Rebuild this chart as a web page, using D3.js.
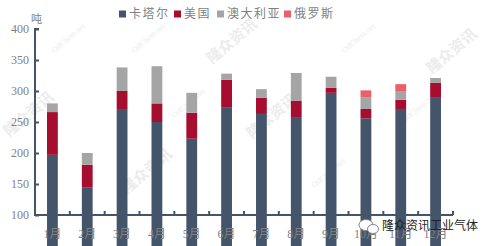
<!DOCTYPE html>
<html>
<head>
<meta charset="utf-8">
<script src="https://cdn.jsdelivr.net/npm/d3@7"></script>
<style>
  body { margin: 0; background: #fff; }
  svg { display: block; }
</style>
</head>
<body>
<div id="chart"></div>
<script>
// months and series (tonnes)
var months = ["1月", "2月", "3月", "4月", "5月", "6月", "7月", "8月", "9月", "10月", "11月", "12月"]
var qatar     = [197, 144, 271, 250, 223, 274, 263, 258, 297, 256, 271, 289]
var usa       = [ 69,  37,  29,  30,  42,  44,  26,  26,   8,  15,  15,  24]
var australia = [ 14,  19,  38,  60,  32,  10,  14,  45,  18,  19,  14,   8]
var russia    = [  0,   0,   0,   0,   0,   0,   0,   0,   0,  11,  11,   0]
var seriesNames = ["卡塔尔", "美国", "澳大利亚", "俄罗斯"]
var yTicks = [100, 150, 200, 250, 300, 350, 400]

var colors = ["#44546a", "#a50e2e", "#a5a5a5", "#e8606a"]
var axisColor = "#44546a"
var textFont = "'Liberation Serif', 'Noto Sans CJK SC', serif"

var W = 491, H = 246
var margin = {left: 35, right: 38, top: 29, bottom: 31}

// one row per month so d3.stack can do the work
var rows = months.map(function (m, i) {
  return {month: m, "卡塔尔": qatar[i], "美国": usa[i], "澳大利亚": australia[i], "俄罗斯": russia[i]}
})

var svg = d3.select("#chart").append("svg")
  .attr("width", W)
  .attr("height", H)

var x = d3.scaleBand()
  .domain(months)
  .range([margin.left, W - margin.right])
  .paddingInner(0.69)
  .paddingOuter(0.345)

var y = d3.scaleLinear()
  .domain([100, 400])
  .range([H - margin.bottom, margin.top])

// faint watermarks
var marks = [[32, 118, "隆众资讯"], [70, 40, "OilChem.net"], [150, 40, "OilChem.net"], [150, 175, "隆众资讯"],
  [190, 105, "OilChem.net"], [235, 45, "隆众资讯"], [275, 120, "隆众资讯"], [330, 175, "OilChem.net"],
  [360, 40, "OilChem.net"], [420, 110, "OilChem.net"], [455, 55, "隆众资讯"]]
svg.append("g").selectAll("text")
  .data(marks)
  .join("text")
  .attr("transform", d => `translate(${d[0]},${d[1]}) rotate(-40)`)
  .attr("text-anchor", "middle")
  .attr("font-family", textFont)
  .attr("font-size", d => d[2] == "OilChem.net" ? 8 : 15)
  .attr("font-weight", d => d[2] == "OilChem.net" ? "normal" : "bold")
  .attr("fill", "#ececec")
  .text(d => d[2])

var stacked = d3.stack().keys(seriesNames)(rows)

svg.append("g").selectAll("g")
  .data(stacked)
  .join("g")
  .attr("fill", (d, i) => colors[i])
  .selectAll("rect")
  .data(d => d)
  .join("rect")
  .attr("x", d => x(d.data.month))
  .attr("width", x.bandwidth())
  .attr("y", d => y(d[1]))
  .attr("height", d => y(d[0]) - y(d[1]))

// y axis
var yAxis = svg.append("g")
  .attr("transform", `translate(${margin.left},0)`)
  .call(d3.axisRight(y).tickValues(yTicks).tickSize(4).tickFormat(""))
yAxis.select(".domain").attr("stroke", axisColor).attr("stroke-width", 2)
  .attr("d", `M4,${y(400)}H0V${y(100)}`)
yAxis.selectAll(".tick line").attr("stroke", axisColor).attr("stroke-width", 2)

svg.append("g").selectAll("text")
  .data(yTicks)
  .join("text")
  .attr("x", 29)
  .attr("y", d => y(d))
  .attr("dy", "0.35em")
  .attr("text-anchor", "end")
  .attr("font-family", textFont)
  .attr("font-size", 12)
  .attr("fill", "#7f7f7f")
  .text(d => d)

svg.append("text")
  .attr("x", 31)
  .attr("y", 23)
  .attr("font-family", textFont)
  .attr("font-size", 11)
  .attr("fill", "#7f7f7f")
  .text("吨")

// x axis with ticks between the months
var step = x.step()
var xAxis = svg.append("g")
svg.append("line")
  .attr("x1", margin.left - 1).attr("x2", W - margin.right)
  .attr("y1", y(100)).attr("y2", y(100))
  .attr("stroke", axisColor).attr("stroke-width", 2)
xAxis.selectAll("line")
  .data(d3.range(months.length + 1))
  .join("line")
  .attr("x1", i => margin.left + i * step)
  .attr("x2", i => margin.left + i * step)
  .attr("y1", y(100))
  .attr("y2", y(100) - 4)
  .attr("stroke", axisColor)
  .attr("stroke-width", 2)

svg.append("g").selectAll("text")
  .data(months)
  .join("text")
  .attr("x", d => x(d) + x.bandwidth() / 2)
  .attr("y", H - 8)
  .attr("text-anchor", "middle")
  .attr("font-family", textFont)
  .attr("font-size", 12)
  .attr("fill", "#7f7f7f")
  .text(d => d)

// legend
var legendX = [119, 174, 217, 284]
var legend = svg.append("g").selectAll("g")
  .data(seriesNames)
  .join("g")
  .attr("transform", (d, i) => `translate(${legendX[i]},14)`)
legend.append("rect")
  .attr("x", 0).attr("y", -3.5)
  .attr("width", 7).attr("height", 7)
  .attr("fill", (d, i) => colors[i])
legend.append("text")
  .attr("x", 10)
  .attr("dy", "0.35em")
  .attr("font-family", textFont)
  .attr("font-size", 12)
  .attr("letter-spacing", 1.5)
  .attr("fill", "#7f7f7f")
  .text(d => d)

// logo in the corner, drawn over the last month labels as in the original
var logo = svg.append("g").attr("transform", "translate(358,226)")
logo.append("ellipse").attr("cx", 8).attr("cy", -1).attr("rx", 7).attr("ry", 5.5)
  .attr("fill", "#fff").attr("stroke", "#888").attr("stroke-width", 1)
logo.append("ellipse").attr("cx", 15).attr("cy", 3).attr("rx", 5.5).attr("ry", 4.5)
  .attr("fill", "#fff").attr("stroke", "#888").attr("stroke-width", 1)
logo.append("text")
  .attr("x", 24)
  .attr("dy", "0.35em")
  .attr("font-family", "'Noto Sans CJK SC', sans-serif")
  .attr("font-size", 12)
  .attr("fill", "#222")
  .text("隆众资讯工业气体")
</script>
</body>
</html>
